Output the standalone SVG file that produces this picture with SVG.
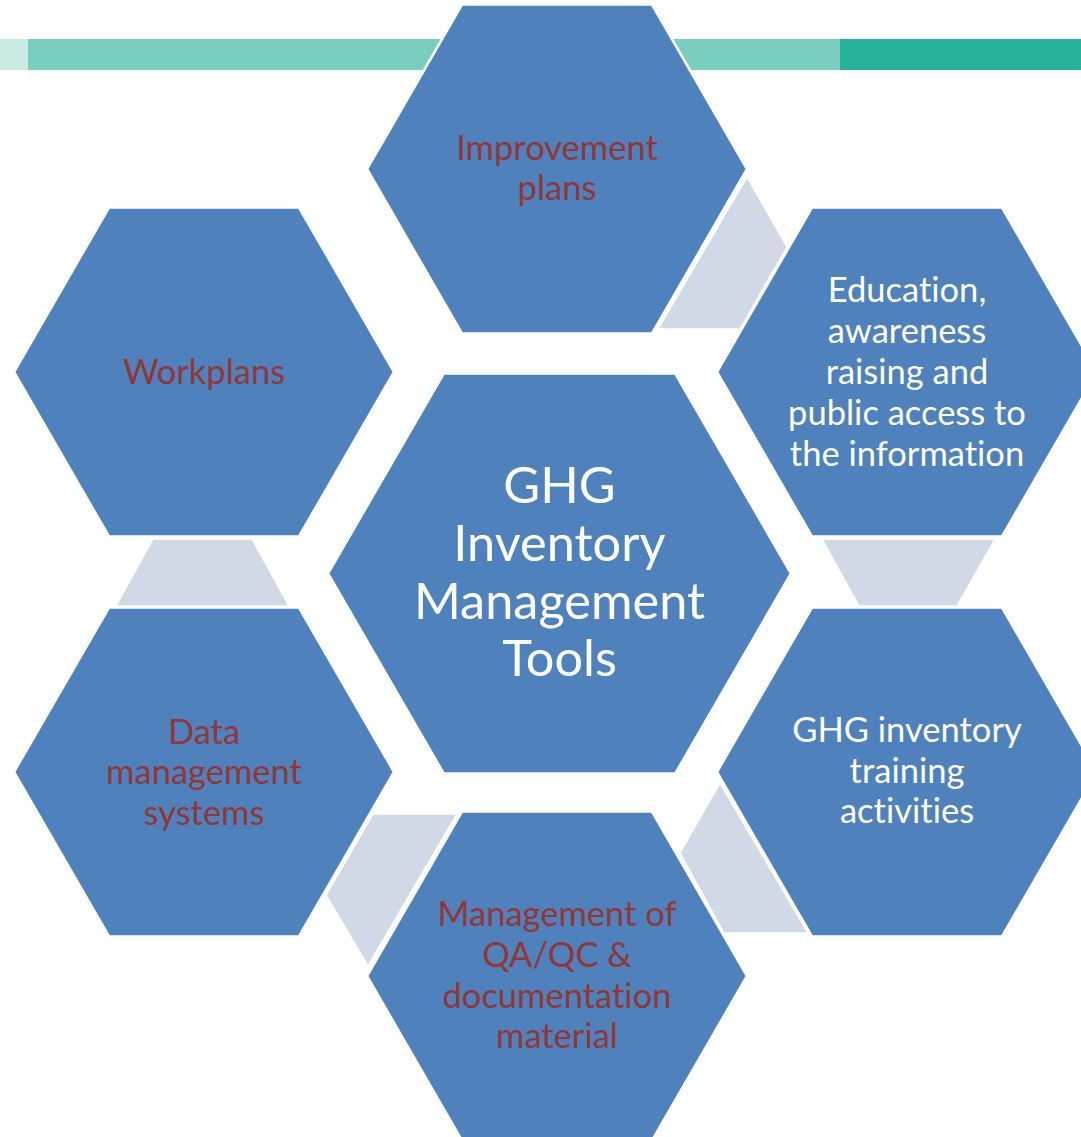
<svg xmlns="http://www.w3.org/2000/svg" width="1081" height="1137" viewBox="0 0 1081 1137">
<style>
.hex{fill:#4f81bd;stroke:#ffffff;stroke-width:2.5}
.con{fill:#d1d8e6;stroke:#ffffff;stroke-width:1.5}
.t{font-family:Lato,"Open Sans",sans-serif;text-anchor:middle;font-size:34.5px;font-variant-ligatures:none}
.red{fill:#943634}
.wh{fill:#ffffff}
.big{font-size:50.5px}
</style>
<rect x="0" y="39" width="28" height="31" fill="#c8ebe4"/>
<rect x="28" y="39" width="812" height="31" fill="#7acec0"/>
<rect x="840" y="39" width="241" height="31" fill="#27b29b"/>
<g id="connectors">
<polygon class="con" points="747,177 787,247 740,329 658,329"/>
<polygon class="con" points="822,539 995,539 957,606 859,606"/>
<polygon class="con" points="720,783 808,933 724,933 680,853"/>
<polygon class="con" points="373,814 457,814 368,966 326,895"/>
<polygon class="con" points="153,539 252,539 289,606 116,606"/>
</g>
<g id="improvement">
<polygon class="hex" points="367,169 462,4.5 652,4.5 747,169 652,333.5 462,333.5"/>
<text class="t red"><tspan x="557" y="160">Improvement</tspan><tspan x="557" y="200">plans</tspan></text>
</g>
<g id="workplans">
<polygon class="hex" points="14,372 109,207.5 299,207.5 394,372 299,536.5 109,536.5"/>
<text class="t red"><tspan x="204" y="384">Workplans</tspan></text>
</g>
<g id="education">
<polygon class="hex" points="717,372 812,207.5 1002,207.5 1097,372 1002,536.5 812,536.5"/>
<text class="t wh"><tspan x="907" y="302">Education,</tspan><tspan x="907" y="343">awareness</tspan><tspan x="907" y="384">raising and</tspan><tspan x="907" y="425">public access to</tspan><tspan x="907" y="466">the information</tspan></text>
</g>
<g id="training">
<polygon class="hex" points="717,772 812,607.5 1002,607.5 1097,772 1002,936.5 812,936.5"/>
<text class="t wh"><tspan x="907" y="742">GHG inventory</tspan><tspan x="907" y="783">training</tspan><tspan x="907" y="823">activities</tspan></text>
</g>
<g id="data">
<polygon class="hex" points="14,772 109,607.5 299,607.5 394,772 299,936.5 109,936.5"/>
<text class="t red"><tspan x="204" y="744">Data</tspan><tspan x="204" y="784">management</tspan><tspan x="204" y="825">systems</tspan></text>
</g>
<g id="qaqc">
<polygon class="hex" points="367,976 462,811.5 652,811.5 747,976 652,1140.5 462,1140.5"/>
<text class="t red"><tspan x="557" y="926">Management of</tspan><tspan x="557" y="967">QA/QC &amp;</tspan><tspan x="557" y="1008">documentation</tspan><tspan x="557" y="1048">material</tspan></text>
</g>
<g id="center">
<polygon class="hex" points="328,573.5 443.75,373.5 675.25,373.5 791,573.5 675.25,773.5 443.75,773.5"/>
<text class="t wh big"><tspan x="559.5" y="503">GHG</tspan><tspan x="559.5" y="561">Inventory</tspan><tspan x="559.5" y="619">Management</tspan><tspan x="559.5" y="676">Tools</tspan></text>
</g>
</svg>
